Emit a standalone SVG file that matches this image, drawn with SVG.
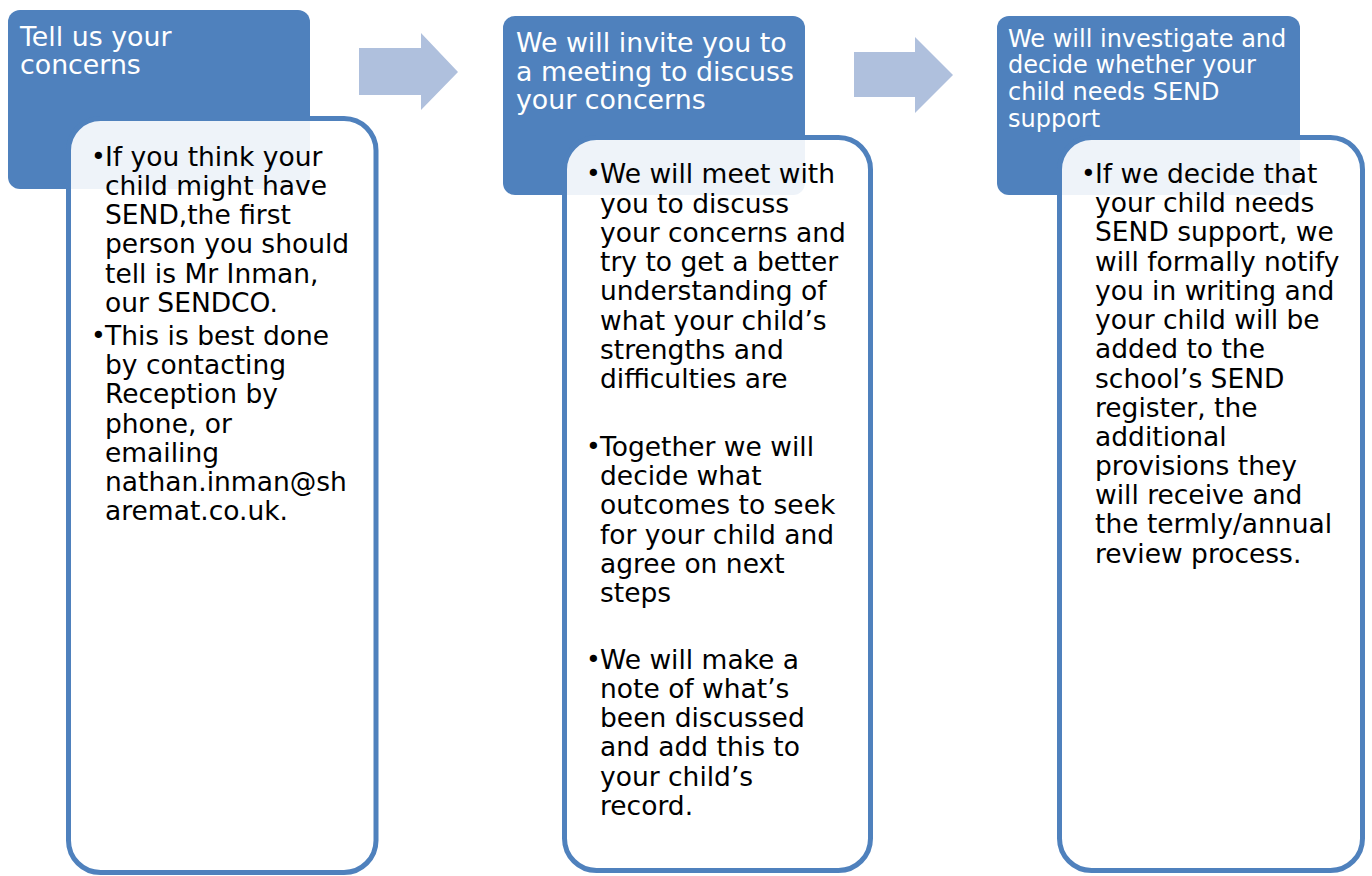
<svg xmlns="http://www.w3.org/2000/svg" width="1372" height="876" viewBox="0 0 1372 876">
<style>
.hdr{fill:#4F81BD;}
.card{fill:#FFFFFF;fill-opacity:0.9;stroke:#4F81BD;stroke-width:5;}
.arrow{fill:#AFC0DD;}
.ht{font-family:"DejaVu Sans",Verdana,sans-serif;font-size:26.8px;fill:#FFFFFF;}
.ht3{font-family:"DejaVu Sans",Verdana,sans-serif;font-size:24px;fill:#FFFFFF;}
.bt{font-family:"DejaVu Sans",Verdana,sans-serif;font-size:26.5px;fill:#000000;}
.bu{font-family:"DejaVu Sans",Verdana,sans-serif;font-size:25px;fill:#000000;}
</style>
<rect width="1372" height="876" fill="#FFFFFF"/>
<g id="connectors">
<polygon class="arrow" points="359,48 421,48 421,33 458,72 421,110 421,95 359,95"/>
<polygon class="arrow" points="854,52 915,52 915,37 953,75 915,113 915,97 854,97"/>
</g>
<g id="step1">
<rect class="hdr" x="8" y="10" width="302" height="179" rx="12"/>
<text class="ht"><tspan x="20" y="46">Tell us your</tspan><tspan x="20" y="74">concerns</tspan></text>
<rect class="card" x="68.5" y="118.5" width="307.5" height="754" rx="32"/>
<text class="bu"><tspan x="91" y="165">•</tspan><tspan x="91" y="344">•</tspan></text>
<text class="bt">
<tspan x="105" y="166">If you think your</tspan>
<tspan x="105" y="195">child might have</tspan>
<tspan x="105" y="224">SEND,the first</tspan>
<tspan x="105" y="253">person you should</tspan>
<tspan x="105" y="283">tell is Mr Inman,</tspan>
<tspan x="105" y="312">our SENDCO.</tspan>
<tspan x="105" y="345">This is best done</tspan>
<tspan x="105" y="374">by contacting</tspan>
<tspan x="105" y="403">Reception by</tspan>
<tspan x="105" y="433">phone, or</tspan>
<tspan x="105" y="462">emailing</tspan>
<tspan x="105" y="491">nathan.inman@sh</tspan>
<tspan x="105" y="520">aremat.co.uk.</tspan>
</text>
</g>
<g id="step2">
<rect class="hdr" x="503" y="16" width="302" height="179" rx="12"/>
<text class="ht"><tspan x="516" y="52">We will invite you to</tspan><tspan x="516" y="81">a meeting to discuss</tspan><tspan x="516" y="109">your concerns</tspan></text>
<rect class="card" x="564.5" y="137.5" width="306" height="733" rx="32"/>
<text class="bu"><tspan x="586" y="182">•</tspan><tspan x="586" y="455">•</tspan><tspan x="586" y="668">•</tspan></text>
<text class="bt">
<tspan x="600" y="183">We will meet with</tspan>
<tspan x="600" y="213">you to discuss</tspan>
<tspan x="600" y="242">your concerns and</tspan>
<tspan x="600" y="271">try to get a better</tspan>
<tspan x="600" y="300">understanding of</tspan>
<tspan x="600" y="330">what your child’s</tspan>
<tspan x="600" y="359">strengths and</tspan>
<tspan x="600" y="388">difficulties are</tspan>
<tspan x="600" y="456">Together we will</tspan>
<tspan x="600" y="485">decide what</tspan>
<tspan x="600" y="514">outcomes to seek</tspan>
<tspan x="600" y="544">for your child and</tspan>
<tspan x="600" y="573">agree on next</tspan>
<tspan x="600" y="602">steps</tspan>
<tspan x="600" y="669">We will make a</tspan>
<tspan x="600" y="698">note of what’s</tspan>
<tspan x="600" y="727">been discussed</tspan>
<tspan x="600" y="756">and add this to</tspan>
<tspan x="600" y="786">your child’s</tspan>
<tspan x="600" y="815">record.</tspan>
</text>
</g>
<g id="step3">
<rect class="hdr" x="997" y="16" width="303" height="179" rx="12"/>
<text class="ht3"><tspan x="1008" y="47">We will investigate and</tspan><tspan x="1008" y="73">decide whether your</tspan><tspan x="1008" y="100">child needs SEND</tspan><tspan x="1008" y="127">support</tspan></text>
<rect class="card" x="1059.5" y="137.5" width="303" height="733" rx="32"/>
<text class="bu"><tspan x="1081" y="182">•</tspan></text>
<text class="bt">
<tspan x="1095" y="183">If we decide that</tspan>
<tspan x="1095" y="212">your child needs</tspan>
<tspan x="1095" y="241">SEND support, we</tspan>
<tspan x="1095" y="271">will formally notify</tspan>
<tspan x="1095" y="300">you in writing and</tspan>
<tspan x="1095" y="329">your child will be</tspan>
<tspan x="1095" y="358">added to the</tspan>
<tspan x="1095" y="388">school’s SEND</tspan>
<tspan x="1095" y="417">register, the</tspan>
<tspan x="1095" y="446">additional</tspan>
<tspan x="1095" y="475">provisions they</tspan>
<tspan x="1095" y="504">will receive and</tspan>
<tspan x="1095" y="533">the termly/annual</tspan>
<tspan x="1095" y="563">review process.</tspan>
</text>
</g>
</svg>
